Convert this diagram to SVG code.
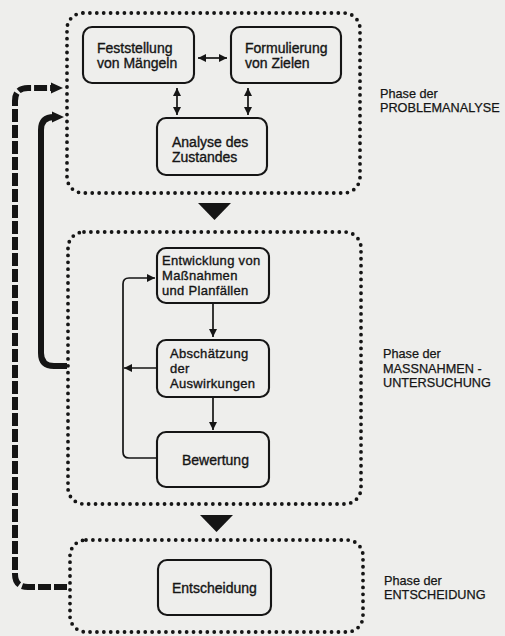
<svg xmlns="http://www.w3.org/2000/svg" width="505" height="636" viewBox="0 0 505 636">
  <style>
    .bg { fill: #eeeeec; }
    .phase { fill: none; stroke: #151515; stroke-width: 3.8; stroke-linecap: round; stroke-dasharray: 0 6.9; }
    .node rect { fill: none; stroke: #151515; stroke-width: 2.1; }
    .t { font-family: "Liberation Sans", Arial, sans-serif; font-size: 14px; fill: #151515; stroke: #151515; stroke-width: 0.35; }
    .t3 { font-size: 13px; letter-spacing: 0.3px; }
    .lbl { font-family: "Liberation Sans", Arial, sans-serif; font-size: 12.7px; fill: #151515; stroke: #151515; stroke-width: 0.25; }
    .thin { fill: none; stroke: #151515; stroke-width: 1.7; }
    .thick { fill: none; stroke: #151515; stroke-width: 6; }
    .dash { stroke-dasharray: 13 3; }
    .head { fill: #151515; }
  </style>
  <defs>
    <marker id="ah" viewBox="0 0 10 10" refX="10" refY="5" markerWidth="8" markerHeight="8" markerUnits="userSpaceOnUse" orient="auto-start-reverse">
      <path d="M0,0 L10,5 L0,10 Z" fill="#151515"/>
    </marker>
  </defs>

  <rect class="bg" x="0" y="0" width="505" height="636"/>

  <!-- phase frames (dotted) -->
  <g id="phase-problemanalyse">
    <rect class="phase" x="67" y="13" width="293" height="180" rx="16"/>
    <text class="lbl" x="380" y="98">Phase der</text>
    <text class="lbl" x="380" y="112">PROBLEMANALYSE</text>
  </g>
  <g id="phase-massnahmen">
    <rect class="phase" x="68" y="232" width="293" height="272" rx="16"/>
    <text class="lbl" x="383" y="358">Phase der</text>
    <text class="lbl" x="383" y="373">MASSNAHMEN -</text>
    <text class="lbl" x="383" y="387">UNTERSUCHUNG</text>
  </g>
  <g id="phase-entscheidung">
    <rect class="phase" x="70" y="540" width="293" height="92" rx="16"/>
    <text class="lbl" x="384" y="585">Phase der</text>
    <text class="lbl" x="384" y="599">ENTSCHEIDUNG</text>
  </g>

  <!-- process steps -->
  <g id="feststellung" class="node">
    <rect x="83" y="27" width="111" height="56" rx="9"/>
    <text class="t" x="97" y="53">Feststellung</text>
    <text class="t" x="97" y="68">von Mängeln</text>
  </g>
  <g id="formulierung" class="node">
    <rect x="231" y="27" width="110" height="56" rx="9"/>
    <text class="t" x="245" y="53">Formulierung</text>
    <text class="t" x="245" y="68">von Zielen</text>
  </g>
  <g id="analyse" class="node">
    <rect x="157" y="118" width="110" height="57" rx="9"/>
    <text class="t" x="172" y="147">Analyse des</text>
    <text class="t" x="172" y="162">Zustandes</text>
  </g>
  <g id="entwicklung" class="node">
    <rect x="157" y="248" width="112" height="55" rx="9"/>
    <text class="t t3" x="162" y="265">Entwicklung von</text>
    <text class="t t3" x="162" y="280">Maßnahmen</text>
    <text class="t t3" x="162" y="295">und Planfällen</text>
  </g>
  <g id="abschaetzung" class="node">
    <rect x="157" y="340" width="112" height="57" rx="9"/>
    <text class="t t3" x="170" y="358">Abschätzung</text>
    <text class="t t3" x="170" y="373">der</text>
    <text class="t t3" x="170" y="388">Auswirkungen</text>
  </g>
  <g id="bewertung" class="node">
    <rect x="157" y="432" width="112" height="55" rx="9"/>
    <text class="t" x="182" y="465">Bewertung</text>
  </g>
  <g id="entscheidung" class="node">
    <rect x="158" y="560" width="113" height="55" rx="9"/>
    <text class="t" x="172" y="593">Entscheidung</text>
  </g>

  <!-- connectors -->
  <g id="connectors">
    <!-- mutual relations in the analysis phase -->
    <line class="thin" x1="198" y1="58" x2="227" y2="58" marker-start="url(#ah)" marker-end="url(#ah)"/>
    <line class="thin" x1="177" y1="88" x2="177" y2="115" marker-start="url(#ah)" marker-end="url(#ah)"/>
    <line class="thin" x1="248" y1="88" x2="248" y2="115" marker-start="url(#ah)" marker-end="url(#ah)"/>

    <!-- phase transitions -->
    <polygon class="head" points="198,203 231,203 214.5,220"/>
    <polygon class="head" points="200,515 233,515 216.5,532"/>

    <!-- sequence inside the measures phase -->
    <line class="thin" x1="213" y1="303" x2="213" y2="337" marker-end="url(#ah)"/>
    <line class="thin" x1="213" y1="397" x2="213" y2="430" marker-end="url(#ah)"/>

    <!-- feedback loop -->
    <path class="thin" d="M157,458 H129 Q123,458 123,452 V284 Q123,278 129,278 H155" marker-end="url(#ah)"/>
    <line class="thin" x1="157" y1="368" x2="124" y2="368" marker-end="url(#ah)"/>

    <!-- return from measures phase to problem analysis -->
    <path class="thick" d="M67,366 H54 Q41,366 41,353 V130 Q41,117 54,117 H54"/>
    <polygon class="head" points="52,111.5 64,117 52,122.5"/>

    <!-- return from decision to problem analysis -->
    <path class="thick dash" d="M67,587 H28 Q15,587 15,574 V101 Q15,88 28,88 H53"/>
    <polygon class="head" points="51,82.5 63,88 51,93.5"/>
  </g>
</svg>
